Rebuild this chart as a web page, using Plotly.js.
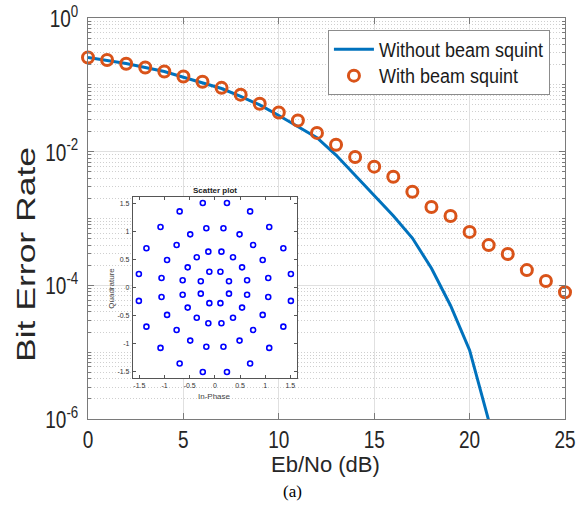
<!DOCTYPE html>
<html>
<head>
<meta charset="utf-8">
<script src="https://cdn.plot.ly/plotly-3.0.1.min.js"></script>
<style>
html,body{margin:0;padding:0;background:#fff;}
#chart{width:584px;height:517px;}
</style>
</head>
<body>
<div id="chart"></div>
<script>
// ---- data ----
const ebNoWithout = [0,1,2,3,4,5,6,7,8,9,10,11,12,13,14,15,16,17,18,19,20,21];
const berWithout = [0.257,0.232,0.208,0.182,0.158,0.130,0.108,0.088,0.067,0.050,0.0347,0.0234,0.0162,0.0089,0.0044,0.00224,0.00110,0.00051,0.00018,0.000050,0.0000107,0.00000095];
const ebNoWith = [0,1,2,3,4,5,6,7,8,9,10,11,12,13,14,15,16,17,18,19,20,21,22,23,24,25];
const berWith = [0.257,0.235,0.207,0.182,0.158,0.133,0.111,0.0902,0.0713,0.0522,0.0385,0.0292,0.0191,0.0127,0.0083,0.00597,0.00421,0.00251,0.00149,0.00109,0.00063,0.00040,0.000294,0.000169,0.000116,0.000079];

const ring1I = [0.28,0.11,-0.11,-0.28,-0.28,-0.11,0.11,0.28];
const ring1Q = [0.11,0.28,0.28,0.11,-0.11,-0.28,-0.28,-0.11];
const ring2I = [0.64,0.54,0.36,0.13,-0.13,-0.36,-0.54,-0.64,-0.64,-0.54,-0.36,-0.13,0.13,0.36,0.54,0.64];
const ring2Q = [0.13,0.36,0.54,0.64,0.64,0.54,0.36,0.13,-0.13,-0.36,-0.54,-0.64,-0.64,-0.54,-0.36,-0.13];
const ring3I = [1.06,0.95,0.76,0.49,0.17,-0.17,-0.49,-0.76,-0.95,-1.06,-1.06,-0.95,-0.76,-0.49,-0.17,0.17,0.49,0.76,0.95,1.06];
const ring3Q = [0.17,0.49,0.76,0.95,1.06,1.06,0.95,0.76,0.49,0.17,-0.17,-0.49,-0.76,-0.95,-1.06,-1.06,-0.95,-0.76,-0.49,-0.17];
const ring4I = [1.51,1.36,1.08,0.70,0.24,-0.24,-0.70,-1.08,-1.36,-1.51,-1.51,-1.36,-1.08,-0.70,-0.24,0.24,0.70,1.08,1.36,1.51];
const ring4Q = [0.24,0.70,1.08,1.36,1.51,1.51,1.36,1.08,0.70,0.24,-0.24,-0.70,-1.08,-1.36,-1.51,-1.51,-1.36,-1.08,-0.70,-0.24];

const yTickVals = [1e-6,1e-4,1e-2,1];
const yTickText = ['10<sup>-6</sup>','10<sup>-4</sup>','10<sup>-2</sup>','10<sup>0</sup>'];
const xTickVals = [0,5,10,15,20,25];
const insetTickVals = [-1.5,-1,-0.5,0,0.5,1,1.5];
const insetTickText = ['-1.5','-1','-0.5','0','0.5','1','1.5'];

const FONT = 'Liberation Sans, Arial, sans-serif';

const traces = [
  {
    x: ebNoWithout, y: berWithout, type: 'scatter', mode: 'lines',
    name: 'Without beam squint',
    line: {color: '#0072BD', width: 3},
    xaxis: 'x', yaxis: 'y'
  },
  {
    x: ebNoWith, y: berWith, type: 'scatter', mode: 'markers',
    name: 'With beam squint',
    marker: {symbol: 'circle-open', size: 11, color: '#D95319', line: {width: 3, color: '#D95319'}},
    cliponaxis: false,
    xaxis: 'x', yaxis: 'y'
  },
  {
    x: [].concat(ring1I, ring2I, ring3I, ring4I),
    y: [].concat(ring1Q, ring2Q, ring3Q, ring4Q),
    type: 'scatter', mode: 'markers', showlegend: false,
    marker: {symbol: 'circle-open', size: 5, color: '#0000FF', line: {width: 1.6, color: '#0000FF'}},
    xaxis: 'x2', yaxis: 'y2'
  }
];

const layout = {
  width: 584, height: 517,
  margin: {l: 88, r: 19, t: 18, b: 98},
  paper_bgcolor: '#ffffff', plot_bgcolor: '#ffffff',
  font: {family: FONT, color: '#262626'},
  showlegend: true,
  legend: {
    x: 0.503, y: 0.97, xanchor: 'left', yanchor: 'top',
    bgcolor: '#ffffff', bordercolor: '#8c8c8c', borderwidth: 1,
    font: {family: FONT, size: 18, color: '#1a1a1a'},
    itemwidth: 40,
    tracegroupgap: 0
  },
  xaxis: {
    domain: [0, 1], anchor: 'y',
    range: [0, 25], tickvals: xTickVals,
    showline: true, linecolor: '#7a7a7a', linewidth: 1, mirror: 'ticks',
    ticks: 'inside', ticklen: 6, tickcolor: '#7a7a7a',
    showgrid: true, gridcolor: '#e0e0e0', gridwidth: 1,
    zeroline: false,
    tickfont: {family: FONT, size: 19, color: '#262626'},
    ticklabelstandoff: 3
  },
  yaxis: {
    domain: [0, 1], anchor: 'x',
    type: 'log', range: [-6, 0],
    tickmode: 'array', tickvals: yTickVals, ticktext: yTickText,
    showline: true, linecolor: '#7a7a7a', linewidth: 1, mirror: 'ticks',
    ticks: 'inside', ticklen: 6, tickcolor: '#7a7a7a',
    showgrid: true, gridcolor: '#e0e0e0', gridwidth: 1,
    zeroline: false,
    tickfont: {family: FONT, size: 19, color: '#262626'},
    ticklabelstandoff: 5,
    minor: {dtick: 'D1', ticks: 'inside', ticklen: 3, tickcolor: '#7a7a7a',
            showgrid: true, gridcolor: '#cfcfcf', gridwidth: 1, griddash: '1px,2px'}
  },
  xaxis2: {
    domain: [0.094, 0.438], anchor: 'y2',
    range: [-1.63, 1.63], tickvals: insetTickVals, ticktext: insetTickText,
    showline: true, linecolor: '#555555', linewidth: 1, mirror: 'ticks',
    ticks: 'inside', ticklen: 3, tickcolor: '#555555',
    showgrid: false, zeroline: false,
    tickfont: {family: FONT, size: 7, color: '#333333'},
    ticklabelstandoff: 1
  },
  yaxis2: {
    domain: [0.102, 0.554], anchor: 'x2',
    range: [-1.62, 1.62], tickvals: insetTickVals, ticktext: insetTickText,
    showline: true, linecolor: '#555555', linewidth: 1, mirror: 'ticks',
    ticks: 'inside', ticklen: 3, tickcolor: '#555555',
    showgrid: false, zeroline: false,
    tickfont: {family: FONT, size: 7, color: '#333333'},
    ticklabelstandoff: 1
  },
  annotations: [
    {text: 'Bit Error Rate', xref: 'paper', yref: 'paper', x: -0.13, y: 0.411,
     xanchor: 'center', yanchor: 'middle', textangle: -90, showarrow: false,
     font: {family: FONT, size: 25, color: '#262626'}},
    {text: 'Eb/No (dB)', xref: 'paper', yref: 'paper', x: 0.497, y: -0.1147,
     xanchor: 'center', yanchor: 'middle', showarrow: false, borderpad: 0,
     font: {family: FONT, size: 22, color: '#262626'}},
    {text: '(a)', xref: 'paper', yref: 'paper', x: 0.428, y: -0.1546,
     xanchor: 'center', yanchor: 'top', showarrow: false, borderpad: 0,
     font: {family: 'Liberation Serif, Times New Roman, serif', size: 17, color: '#000000'}},
    {text: '<b>Scatter plot</b>', xref: 'paper', yref: 'paper', x: 0.266, y: 0.571,
     xanchor: 'center', yanchor: 'middle', showarrow: false,
     font: {family: FONT, size: 8, color: '#222222'}},
    {text: 'In-Phase', xref: 'paper', yref: 'paper', x: 0.266, y: 0.055,
     xanchor: 'center', yanchor: 'middle', showarrow: false,
     font: {family: FONT, size: 8, color: '#444444'}},
    {text: 'Quadrature', xref: 'paper', yref: 'paper', x: 0.050, y: 0.327,
     xanchor: 'center', yanchor: 'middle', textangle: -90, showarrow: false,
     font: {family: FONT, size: 8, color: '#444444'}}
  ]
};

// stretch a text element vertically on screen about its own centre
function stretchScreenY(el, s) {
  const svg = el.ownerSVGElement;
  if (!svg || !el.parentNode || !el.parentNode.getScreenCTM) return;
  const r = el.getBoundingClientRect();
  if (!r.width && !r.height) return;
  const cx = r.left + r.width / 2, cy = r.top + r.height / 2;
  const P = el.parentNode.getScreenCTM();
  const S = svg.createSVGMatrix().translate(cx, cy).scaleNonUniform(1, s).translate(-cx, -cy);
  const cons = el.transform.baseVal.consolidate();
  const L = cons ? cons.matrix : svg.createSVGMatrix();
  const M = P.inverse().multiply(S).multiply(P).multiply(L);
  el.setAttribute('transform', 'matrix(' + [M.a, M.b, M.c, M.d, M.e, M.f].join(',') + ')');
}

Plotly.newPlot('chart', traces, layout, {displayModeBar: false, staticPlot: true}).then(function (gd) {
  gd.querySelectorAll('.subplot.xy .xtick text, .subplot.xy .ytick text').forEach(function (t) { stretchScreenY(t, 1.3); });
  gd.querySelectorAll('.legend text.legendtext').forEach(function (t) { stretchScreenY(t, 1.12); });
  const ann = gd.querySelectorAll('.annotation text.annotation-text');
  if (ann[0]) stretchScreenY(ann[0], 1.42);
});
</script>
</body>
</html>
